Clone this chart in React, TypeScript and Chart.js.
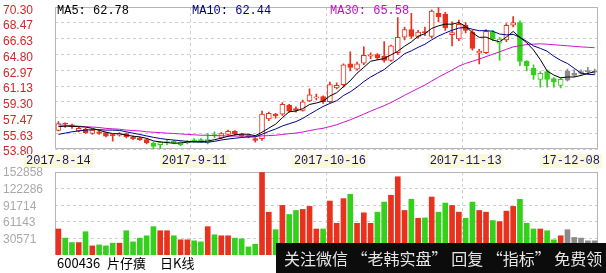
import React, { useEffect, useRef } from "react";
import { Chart, registerables } from "chart.js";
Chart.register(...registerables);

// ---------- data ----------
const dates = [
  "2017-08-14","2017-08-15","2017-08-16","2017-08-17","2017-08-18","2017-08-21","2017-08-22","2017-08-23","2017-08-24","2017-08-25",
  "2017-08-28","2017-08-29","2017-08-30","2017-08-31","2017-09-01","2017-09-04","2017-09-05","2017-09-06","2017-09-07","2017-09-08",
  "2017-09-11","2017-09-12","2017-09-13","2017-09-14","2017-09-15","2017-09-18","2017-09-19","2017-09-20","2017-09-21","2017-09-22",
  "2017-09-25","2017-09-26","2017-09-27","2017-09-28","2017-09-29","2017-10-09","2017-10-10","2017-10-11","2017-10-12","2017-10-13",
  "2017-10-16","2017-10-17","2017-10-18","2017-10-19","2017-10-20","2017-10-23","2017-10-24","2017-10-25","2017-10-26","2017-10-27",
  "2017-10-30","2017-10-31","2017-11-01","2017-11-02","2017-11-03","2017-11-06","2017-11-07","2017-11-08","2017-11-09","2017-11-10",
  "2017-11-13","2017-11-14","2017-11-15","2017-11-16","2017-11-17","2017-11-20","2017-11-21","2017-11-22","2017-11-23","2017-11-24",
  "2017-11-27","2017-11-28","2017-11-29","2017-11-30","2017-12-01","2017-12-04","2017-12-05","2017-12-06","2017-12-07","2017-12-08",
];

const open = [
  55.95,56.8,56.6,55.9,56.1,55.6,55.8,55.7,55.45,55.4,
  55.6,55.2,55.1,54.9,54.5,54.3,54.5,54.7,54.3,54.55,
  54.85,54.9,54.5,55.45,55.1,55.5,55.85,55.5,55.35,55.0,
  55.0,57.3,57.85,57.85,58.9,58.5,58.3,59.4,59.75,59.9,
  59.3,60.9,61.3,63.7,63.1,63.8,64.6,64.8,64.6,64.1,
  65.0,66.8,67.7,66.9,67.45,66.9,69.6,69.5,67.1,66.6,
  68.2,67.4,64.95,65.0,67.4,66.1,66.5,68.2,68.5,64.0,
  63.2,61.9,62.8,62.0,61.2,61.8,62.35,62.6,62.85,62.75,
];
const high = [
  57.0,56.85,56.7,56.35,56.2,56.05,55.9,55.75,55.5,55.7,
  55.65,55.3,55.2,55.0,54.6,54.7,54.8,54.8,54.7,54.8,
  55.0,55.0,55.6,55.8,55.7,56.0,55.95,55.6,55.45,55.1,
  58.2,58.1,57.95,59.2,59.0,58.7,59.5,60.8,60.2,60.0,
  61.6,61.5,63.7,65.1,63.9,65.7,65.0,64.9,66.3,65.9,
  69.1,68.0,69.6,67.6,68.0,70.0,70.3,69.7,68.6,68.8,
  68.5,67.6,65.4,67.7,67.6,66.8,68.4,69.2,68.7,64.1,
  63.6,62.8,63.0,62.1,62.1,63.1,63.0,63.0,63.3,63.1,
];
const low = [
  55.9,56.3,56.2,55.8,55.6,55.5,55.5,55.2,54.7,55.3,
  55.1,54.9,54.8,54.4,53.8,53.85,54.3,54.4,54.2,54.4,
  54.6,54.6,54.4,55.1,55.0,55.4,55.4,55.2,55.1,54.6,
  54.8,57.1,57.4,57.7,58.1,58.1,58.2,59.3,59.5,59.1,
  59.2,60.8,61.0,62.9,63.0,63.6,64.3,64.2,63.9,64.0,
  64.8,66.5,66.7,66.7,67.0,66.7,68.6,67.6,65.8,66.4,
  67.3,65.3,63.7,64.9,66.4,64.1,66.3,68.0,63.5,62.9,
  61.9,61.0,61.0,61.0,60.9,61.7,62.2,62.5,62.5,62.5,
];
const close = [
  56.75,56.7,56.4,56.2,55.7,56.0,55.6,55.3,55.35,55.6,
  55.2,55.0,54.9,54.5,54.1,54.6,54.65,54.5,54.6,54.7,
  54.75,54.7,54.9,55.35,55.6,55.85,55.55,55.35,55.2,54.8,
  57.85,57.95,57.65,59.0,58.2,58.3,59.3,60.1,59.85,59.3,
  61.3,61.2,63.6,63.3,63.7,64.7,64.75,64.4,64.1,65.8,
  66.8,67.7,66.9,67.4,67.3,69.85,69.2,67.9,67.35,68.3,
  67.6,65.5,65.2,67.5,66.6,66.6,68.2,68.5,64.0,63.5,
  62.4,62.6,61.9,61.6,61.9,62.9,62.6,62.8,62.8,62.8,
];
// candle tone: r = red, g = green, k = grey
const tone = (
  "rrrrrrrrrrrrrr" + "gggggggggg" +
  "rrrrrrrrrrrrrrrrrrrrrrrrrrrrrrrrrrrrrrrr" +
  "gg" + "rr" + "ggggggg" + "kkkkk"
).split("");

const volume = [
  47900,31100,22900,22900,42900,16800,18600,16800,21800,21800,
  44700,24200,31100,35400,52200,44700,44700,35400,28000,28000,
  26100,24200,52200,37300,35400,35400,31100,29800,14900,19900,
  152000,78900,46600,91300,74600,82000,83900,89500,47900,47900,
  99400,58400,103800,111800,58400,77700,58400,78900,97500,110000,
  144100,82000,102500,67700,68300,106800,78900,95700,91300,78900,
  67700,97500,82000,78900,63400,61500,80800,89500,102500,58400,
  47900,47900,44700,28000,35400,46600,32300,31100,26100,26100,
];

const ma5 = [
  56.4,56.45,56.45,56.4,56.35,56.2,55.98,55.76,55.59,55.57,
  55.41,55.29,55.21,55.04,54.74,54.62,54.55,54.47,54.49,54.61,
  54.64,54.65,54.73,54.88,55.06,55.28,55.45,55.54,55.51,55.35,
  55.75,56.23,56.69,57.45,58.13,58.22,58.49,58.98,59.15,59.37,
  59.97,60.35,61.05,61.74,62.62,63.3,64.01,64.17,64.33,64.75,
  65.17,65.76,66.26,66.92,67.22,67.83,68.13,68.33,68.32,68.52,
  68.07,67.33,66.79,66.82,66.48,66.28,66.82,67.48,66.78,66.16,
  65.32,64.2,62.88,62.4,62.08,62.18,62.18,62.36,62.6,62.78,
];
const ma10 = [
  55.5,55.65,55.8,55.9,56.0,56.05,56.05,56.0,56.0,55.96,
  55.8,55.64,55.49,55.32,55.16,55.02,54.92,54.84,54.77,54.68,
  54.63,54.6,54.6,54.69,54.84,54.96,55.05,55.14,55.2,55.21,
  55.52,55.84,56.12,56.48,56.74,56.99,57.36,57.84,58.3,58.75,
  59.1,59.42,60.02,60.45,61.0,61.64,62.18,62.61,63.04,63.69,
  64.24,64.89,65.22,65.63,65.99,66.5,66.95,67.3,67.62,67.87,
  67.95,67.73,67.56,67.57,67.5,67.18,67.08,67.14,66.8,66.32,
  65.8,65.51,65.18,64.59,64.12,63.75,63.19,62.62,62.5,62.44,
];
const ma30 = [
  56.6,56.55,56.5,56.45,56.4,56.35,56.3,56.2,56.15,56.1,
  56.0,55.95,55.9,55.8,55.75,55.7,55.65,55.6,55.55,55.5,
  55.45,55.4,55.4,55.35,55.35,55.3,55.3,55.3,55.3,55.28,
  55.32,55.36,55.4,55.49,55.58,55.65,55.78,55.94,56.09,56.21,
  56.41,56.62,56.91,57.2,57.52,57.86,58.2,58.53,58.84,59.21,
  59.62,60.05,60.45,60.85,61.24,61.71,62.16,62.58,62.99,63.44,
  63.76,64.01,64.26,64.55,64.83,65.1,65.4,65.68,65.82,65.96,
  66.0,66.04,65.99,65.93,65.87,65.81,65.74,65.68,65.64,65.58,
];

const priceTicks = [53.80, 55.63, 57.47, 59.30, 61.13, 62.97, 64.80, 66.63, 68.47, 70.30];
const volumeTicks = [30571, 61143, 91714, 122286, 152858];
const dateTickDates = ["2017-08-14", "2017-09-11", "2017-10-16", "2017-11-13", "2017-12-08"];
const dateTickLabels = ["2017-8-14", "2017-9-11", "2017-10-16", "2017-11-13", "17-12-08"];
const dividerDates = ["2017-09-11", "2017-10-16", "2017-11-13"];

const stockCode = "600436";
const stockName = "片仔癀";
const periodName = "日K线";
const bannerText = "关注微信 “老韩实盘” 回复 “指标” 免费领";

// ---------- styles ----------
const RED = "#e8321e";
const GREEN = "#35d01c";
const GREY = "#8a8a8a";
const GRID = "#cdcdcd";
const FRAME = "#b5b5b5";
const toneColor = (t: string) => (t === "r" ? RED : t === "g" ? GREEN : GREY);
const dividerIdx = dividerDates.map((d) => dates.indexOf(d));

const framePlugin = (withBottom: boolean) => ({
  id: "frame",
  beforeDatasetsDraw(chart: any) {
    const { ctx, chartArea: a } = chart;
    const l = Math.round(a.left) + 0.5;
    const r = Math.round(a.right) - 0.5;
    const t = Math.round(a.top) + 0.5;
    const b = Math.round(a.bottom) - 0.5;
    ctx.save();
    ctx.strokeStyle = FRAME;
    ctx.lineWidth = 1;
    ctx.beginPath();
    if (withBottom) {
      ctx.moveTo(l, b); ctx.lineTo(l, t); ctx.lineTo(r, t); ctx.lineTo(r, b); ctx.lineTo(l, b);
    } else {
      ctx.moveTo(l, b); ctx.lineTo(l, t); ctx.lineTo(r, t); ctx.lineTo(r, b);
    }
    ctx.stroke();
    ctx.restore();
  },
});

const dateLabelPlugin = {
  id: "dateLabels",
  afterDraw(chart: any) {
    const { ctx, chartArea: a, scales } = chart;
    const x = scales.x;
    ctx.save();
    ctx.font = '12px "Liberation Mono", monospace';
    ctx.textBaseline = "middle";
    ctx.textAlign = "left";
    dateTickDates.forEach((d, k) => {
      const i = dates.indexOf(d);
      const px = x.getPixelForValue(i);
      const text = dateTickLabels[k];
      const w = ctx.measureText(text).width;
      let left = px - w / 2;
      if (left + w > a.right + 2) left = a.right + 2 - w;
      const y = a.bottom + 12;
      ctx.fillStyle = "#fbf8dc";
      ctx.fillRect(Math.round(left) - 2, y - 7, Math.round(w) + 4, 14);
      ctx.fillStyle = "#15156e";
      ctx.fillText(text, left, y);
    });
    ctx.restore();
  },
};

const xScale = {
  type: "category" as const,
  offset: true,
  grid: {
    offset: true,
    drawTicks: false,
    lineWidth: 1,
    color: (c: any) => (dividerIdx.includes(c.index) ? GRID : "rgba(0,0,0,0)"),
  },
  border: { display: false, dash: [3, 3] },
  ticks: { display: false, autoSkip: false },
};

export default function App() {
  const priceRef = useRef<HTMLCanvasElement | null>(null);
  const volRef = useRef<HTMLCanvasElement | null>(null);

  useEffect(() => {
    document.body.style.margin = "0";
    const candleColors = tone.map(toneColor);
    const bodyFill = tone.map((t, i) =>
      t === "k" || close[i] < open[i] ? toneColor(t) : "#ffffff"
    );
    const volColors = tone.map((t, i) =>
      t === "k" ? GREY : close[i] >= open[i] ? RED : GREEN
    );

    const price = new Chart(priceRef.current as HTMLCanvasElement, {
      type: "bar",
      data: {
        labels: dates,
        datasets: [
          { type: "line", label: "MA5", data: ma5, borderColor: "#000000", borderWidth: 1, pointRadius: 0, tension: 0, order: 0 } as any,
          { type: "line", label: "MA10", data: ma10, borderColor: "#00008a", borderWidth: 1, pointRadius: 0, tension: 0, order: 0 } as any,
          { type: "line", label: "MA30", data: ma30, borderColor: "#cc14cc", borderWidth: 1, pointRadius: 0, tension: 0, order: 0 } as any,
          {
            type: "bar", label: "body",
            data: open.map((o, i) => [o, close[i]]),
            backgroundColor: bodyFill, borderColor: candleColors, borderWidth: 1,
            borderSkipped: false, barThickness: 5, grouped: false, minBarLength: 1, order: 1,
          } as any,
          {
            type: "bar", label: "wick",
            data: low.map((l, i) => [l, high[i]]),
            backgroundColor: candleColors, barThickness: 1, grouped: false, order: 2,
          } as any,
        ],
      },
      options: {
        animation: false,
        responsive: false,
        devicePixelRatio: 1,
        layout: { padding: { left: 3, right: 8, top: 2, bottom: 21 } },
        plugins: { legend: { display: false }, tooltip: { enabled: false } },
        scales: {
          x: xScale as any,
          y: {
            min: 53.8,
            max: 70.3,
            afterBuildTicks: (s: any) => { s.ticks = priceTicks.map((v) => ({ value: v })); },
            afterFit: (s: any) => { s.width = 52; },
            grid: { color: GRID, drawTicks: false },
            border: { display: false, dash: [3, 3] },
            ticks: {
              color: "#d02828",
              font: { family: '"Liberation Sans", Arial, sans-serif', size: 12 },
              crossAlign: "far",
              labelOffset: 3,
              autoSkip: false,
              padding: 0,
              callback: (v: any) => Number(v).toFixed(2),
            },
          } as any,
        },
      },
      plugins: [framePlugin(true), dateLabelPlugin],
    });

    const vol = new Chart(volRef.current as HTMLCanvasElement, {
      type: "bar",
      data: {
        labels: dates,
        datasets: [
          { label: "VOL", data: volume, backgroundColor: volColors, barThickness: 5, grouped: false } as any,
        ],
      },
      options: {
        animation: false,
        responsive: false,
        devicePixelRatio: 1,
        layout: { padding: { left: 3, right: 8, top: 12, bottom: 18 } },
        plugins: { legend: { display: false }, tooltip: { enabled: false } },
        scales: {
          x: xScale as any,
          y: {
            min: 0,
            max: 152858,
            afterBuildTicks: (s: any) => { s.ticks = volumeTicks.map((v) => ({ value: v })); },
            afterFit: (s: any) => { s.width = 52; },
            grid: { color: GRID, drawTicks: false },
            border: { display: false, dash: [3, 3] },
            ticks: {
              color: "#a9a9a9",
              font: { family: '"Liberation Sans", Arial, sans-serif', size: 12 },
              crossAlign: "far",
              labelOffset: 1,
              autoSkip: false,
              padding: 0,
              callback: (v: any) => String(Math.round(Number(v))),
            },
          } as any,
        },
      },
      plugins: [framePlugin(false)],
    });

    return () => {
      price.destroy();
      vol.destroy();
    };
  }, []);

  const last = (a: number[]) => a[a.length - 1].toFixed(2);
  const mono = '"Liberation Mono", "DejaVu Sans Mono", monospace';
  const cjk = '"Noto Sans CJK SC", "Noto Sans", sans-serif';

  return (
    <div style={{ position: "relative", width: 606, height: 273, overflow: "hidden", background: "#ffffff" }}>
      <canvas ref={priceRef} width={606} height={170} style={{ position: "absolute", left: 0, top: 0, display: "block" }} />
      <canvas ref={volRef} width={606} height={113} style={{ position: "absolute", left: 0, top: 160, display: "block" }} />

      <div style={{ position: "absolute", top: 4, left: 57, font: `12px ${mono}`, lineHeight: "14px", color: "#000000", whiteSpace: "pre" }}>
        {`MA5: ${last(ma5)}`}
      </div>
      <div style={{ position: "absolute", top: 4, left: 192, font: `12px ${mono}`, lineHeight: "14px", color: "#00008a", whiteSpace: "pre" }}>
        {`MA10: ${last(ma10)}`}
      </div>
      <div style={{ position: "absolute", top: 4, left: 330, font: `12px ${mono}`, lineHeight: "14px", color: "#c010c0", whiteSpace: "pre" }}>
        {`MA30: ${last(ma30)}`}
      </div>

      <div style={{ position: "absolute", top: 255, left: 57, font: `13px ${cjk}`, lineHeight: "16px", color: "#000" }}>{stockCode}</div>
      <div style={{ position: "absolute", top: 255, left: 107, font: `13px ${cjk}`, lineHeight: "16px", color: "#000" }}>{stockName}</div>
      <div style={{ position: "absolute", top: 255, left: 160, font: `13px ${cjk}`, lineHeight: "16px", color: "#000" }}>{periodName}</div>

      <div
        style={{
          position: "absolute", left: 276, top: 243, width: 330, height: 30,
          background: "#0c0c0c", color: "#e6e6e6", font: `16px ${cjk}`,
          display: "flex", alignItems: "center", paddingLeft: 8, boxSizing: "border-box", whiteSpace: "pre",
        }}
      >
        {bannerText}
      </div>
    </div>
  );
}
